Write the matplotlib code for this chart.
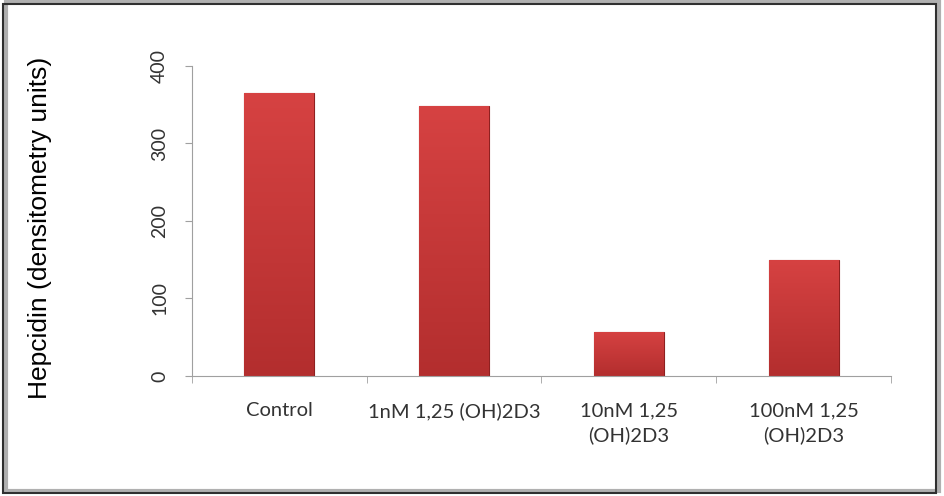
import matplotlib
matplotlib.use("Agg")
import matplotlib.pyplot as plt
import numpy as np
from matplotlib.patches import Rectangle

categories = ["Control", "1nM 1,25 (OH)2D3", "10nM 1,25\n(OH)2D3", "100nM 1,25\n(OH)2D3"]
values = [365, 348, 57, 150]
yticks = [0, 100, 200, 300, 400]

fig = plt.figure(figsize=(9.45, 4.96), dpi=100)
ax = fig.add_axes([0.203, 0.242, 0.740, 0.625])

x = np.arange(len(categories))
bars = ax.bar(x, values, width=0.4, color="#C93B3B", edgecolor="#8E2020", linewidth=0.8, zorder=2)

# vertical gradient inside each bar
grad = np.linspace(0, 1, 256).reshape(-1, 1)
cmap = matplotlib.colors.LinearSegmentedColormap.from_list("bar", ["#B32E2E", "#D64242"])
for b in bars:
    x0, y0 = b.get_x(), b.get_y()
    w, h = b.get_width(), b.get_height()
    im = ax.imshow(grad, extent=[x0, x0 + w, y0, y0 + h], origin="lower",
                   cmap=cmap, aspect="auto", zorder=2.5)
    im.set_clip_path(b)

ax.set_xlim(-0.5, len(categories) - 0.5)
ax.set_ylim(0, 400)
ax.set_yticks(yticks)
ax.set_yticklabels([str(t) for t in yticks], rotation=90, va="center",
                   fontsize=14, family="Lato", color="#333333")
ax.set_xticks(x)
ax.set_xticklabels(categories, fontsize=14.5, family="Lato", color="#333333", linespacing=1.45)
ax.set_xticks(np.arange(-0.5, len(categories)), minor=True)
ax.tick_params(axis="x", which="major", length=0, pad=19)
ax.tick_params(axis="x", which="minor", length=5, color="#A0A0A0")
ax.tick_params(axis="y", length=5, color="#A0A0A0", pad=12)

for s in ["top", "right"]:
    ax.spines[s].set_visible(False)
for s in ["left", "bottom"]:
    ax.spines[s].set_color("#A0A0A0")

fig.text(40 / 945, 1 - 228 / 496, "Hepcidin (densitometry units)", rotation=90,
         ha="center", va="center", fontsize=19, family="Liberation Sans", color="black")

# frame with shadow
fig.patches.append(Rectangle((0.006, 0.01), 0.988, 0.985, transform=fig.transFigure,
                             fill=False, edgecolor="#B0B0B0", linewidth=3))
fig.patches.append(Rectangle((0.003, 0.006), 0.988, 0.985, transform=fig.transFigure,
                             fill=False, edgecolor="#303030", linewidth=1.5))

fig.savefig("out.png", dpi=100)
